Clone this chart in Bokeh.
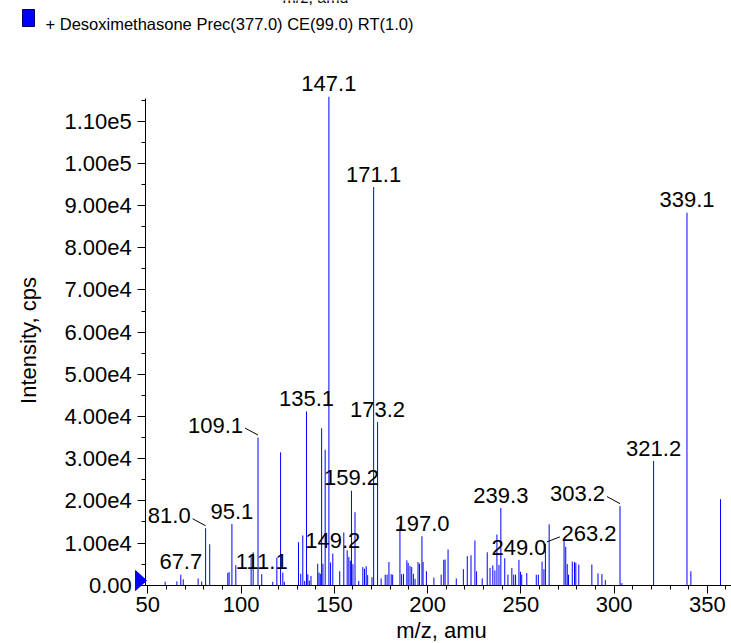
import math
from bokeh.plotting import figure
from bokeh.models import FixedTicker, Label, PolyAnnotation, ColumnDataSource, Range1d
from bokeh.core.properties import value
from bokeh.embed import file_html
from bokeh.resources import INLINE

# ---------------- data ----------------
mz = [59.3, 65.6, 67.7, 69.0, 77.0, 78.9, 81.0, 83.2, 92.9, 93.6, 95.1, 97.2,
      105.4, 106.5, 109.1, 111.1, 117.0, 119.2, 121.2, 122.4, 123.2,
      130.8, 132.0, 133.1, 134.1, 135.1, 135.8, 136.6, 137.5,
      141.1, 141.8, 142.5, 143.2, 143.9, 145.1, 147.1, 148.0, 149.2,
      152.9, 155.1, 156.9, 157.8, 158.6, 159.2, 160.0, 161.1, 163.1,
      165.3, 166.2, 167.1, 167.9, 170.2, 171.1, 173.2, 175.1, 177.3, 178.3,
      179.3, 180.5, 181.3, 185.2, 186.1, 187.1, 188.9, 189.6, 190.6, 191.5,
      192.4, 193.3, 194.9, 195.7, 197.0, 197.6, 199.4, 203.4, 207.3, 208.7,
      209.4, 211.0, 215.4, 219.2, 221.3, 223.3, 225.4, 226.3, 229.3, 232.0,
      233.5, 235.0, 236.1, 237.2, 238.3, 239.3, 241.4, 243.1, 245.2, 246.2,
      247.2, 249.0, 249.8, 250.5, 253.2, 258.3, 259.4, 261.4, 262.4, 263.2,
      265.2, 273.2, 274.1, 274.9, 275.6, 277.6, 278.8, 279.5, 281.1, 288.1,
      291.4, 293.5, 295.3, 303.2, 304.2, 321.2, 339.1, 341.2, 357.1]
intensity = [850, 900, 2500, 1400, 1600, 880, 13500, 9700, 2900, 3100, 14500, 4750,
             7300, 7800, 35000, 2600, 800, 6500, 31500, 3000, 800,
             10200, 2700, 11800, 1000, 41200, 2600, 1100, 2200,
             5100, 3000, 2700, 37200, 5100, 32100, 115800, 5400, 7500,
             3300, 12500, 8250, 6700, 5800, 22400, 5000, 17300, 1000,
             4300, 3900, 4500, 2400, 1900, 94400, 38700, 1600, 2500, 2500,
             5500, 2600, 2500, 14300, 2600, 2700, 5900, 5300, 4600, 4300,
             2700, 1500, 5500, 5100, 11600, 5500, 3300, 1800, 2500, 6000,
             6100, 8450, 1600, 3800, 6900, 7100, 10600, 3300, 1600, 7800,
             4100, 4700, 3500, 12000, 4800, 18300, 6400, 2500, 4100, 2500,
             2500, 6000, 3200, 2500, 2900, 2500, 2500, 5600, 3800, 9800,
             14450, 10600, 9100, 5000, 2500, 5600, 5500, 5300, 4900, 4900,
             2800, 2650, 1200, 18750, 500, 29450, 88300, 3300, 20400]

peak_labels = ["67.7", "81.0", "95.1", "109.1", "111.1", "135.1", "147.1", "149.2",
               "159.2", "171.1", "173.2", "197.0", "239.3", "249.0", "263.2",
               "303.2", "321.2", "339.1"]
left_leader_labels = ["81.0", "109.1", "303.2"]
right_leader_labels = ["263.2"]

x_ticks = [50, 100, 150, 200, 250, 300, 350]
y_ticks = [0, 10000, 20000, 30000, 40000, 50000, 60000, 70000, 80000, 90000, 100000, 110000]
y_tick_labels = ["0.00", "1.00e4", "2.00e4", "3.00e4", "4.00e4", "5.00e4", "6.00e4",
                 "7.00e4", "8.00e4", "9.00e4", "1.00e5", "1.10e5"]
legend_text = "+ Desoximethasone Prec(377.0) CE(99.0) RT(1.0)"
x_title = "m/z, amu"
y_title = "Intensity, cps"

# ---------------- layout (pixels) ----------------
W, H = 731, 643
PX50 = 147.3          # canvas x of m/z 50
PY0 = 584.7           # canvas y of intensity 0
SX = 1.865            # px per m/z unit
SY = 42.18 / 10000.0  # px per cps
AXIS_X_PX = 145.3     # y axis line
AXIS_TOP = 115300     # end of y axis line
BASE_FIX = 0.38       # baseline correction (em) for the svg text placement

X0 = 50 - PX50 / SX
X1 = 50 + (W - PX50) / SX
Y1 = PY0 / SY
Y0 = -(H - PY0) / SY
AXIS_X = 50 - (PX50 - AXIS_X_PX) / SX

FONT = "Liberation Sans"
FS = 22
BLUE = "#0000ff"
FIX = BASE_FIX * FS

p = figure(width=W, height=H, x_range=Range1d(X0, X1), y_range=Range1d(Y0, Y1),
           output_backend="svg", toolbar_location=None, title=None,
           min_border_left=0, min_border_right=0, min_border_top=0, min_border_bottom=0)
p.outline_line_color = None
p.grid.visible = False
p.background_fill_color = "white"
p.border_fill_color = "white"

src = ColumnDataSource(dict(mz=mz, intensity=intensity, base=[0] * len(mz)))
p.segment(x0="mz", y0="base", x1="mz", y1="intensity", source=src,
          line_color=BLUE, line_width=1)

def peak_height(lbl):
    return intensity[mz.index(float(lbl))]

centered = [l for l in peak_labels if l not in left_leader_labels + right_leader_labels]
p.text(x=[float(l) for l in centered], y=[peak_height(l) for l in centered], text=centered,
       text_align="center", text_baseline="alphabetic", y_offset=-4.5 - FIX,
       text_font=value(FONT), text_font_size=f"{FS}px", text_color="black")

p.text(x=[float(l) for l in left_leader_labels], y=[peak_height(l) for l in left_leader_labels],
       text=left_leader_labels, text_align="right", text_baseline="alphabetic",
       x_offset=-15, y_offset=-4 - FIX,
       text_font=value(FONT), text_font_size=f"{FS}px", text_color="black")
p.segment(x0=[float(l) - 13 / SX for l in left_leader_labels],
          y0=[peak_height(l) + 9.5 / SY for l in left_leader_labels],
          x1=[float(l) for l in left_leader_labels],
          y1=[peak_height(l) + 2.5 / SY for l in left_leader_labels],
          line_color="black", line_width=1)

p.text(x=[float(l) for l in right_leader_labels], y=[peak_height(l) for l in right_leader_labels],
       text=right_leader_labels, text_align="left", text_baseline="alphabetic",
       x_offset=16, y_offset=-2 - FIX,
       text_font=value(FONT), text_font_size=f"{FS}px", text_color="black")
p.segment(x0=[float(l) + 14.5 / SX for l in right_leader_labels],
          y0=[peak_height(l) + 7 / SY for l in right_leader_labels],
          x1=[float(l) + 1.5 / SX for l in right_leader_labels],
          y1=[peak_height(l) + 2 / SY for l in right_leader_labels],
          line_color="black", line_width=1)

# ---------------- axes ----------------
p.xaxis.ticker = FixedTicker(ticks=x_ticks, minor_ticks=[v for v in range(60, 370, 10) if v % 50])
p.yaxis.ticker = FixedTicker(ticks=y_ticks, minor_ticks=[t + 5000 for t in y_ticks])
p.yaxis.major_label_overrides = {t: s for t, s in zip(y_ticks, y_tick_labels)}
p.xaxis.fixed_location = 0
p.yaxis.fixed_location = AXIS_X
p.xaxis.bounds = (AXIS_X, X1)
p.yaxis.bounds = (0, AXIS_TOP)
for ax in (p.xaxis, p.yaxis):
    ax.major_tick_out = 8
    ax.major_tick_in = 0
    ax.minor_tick_out = 4
    ax.minor_tick_in = 0
    ax.axis_line_color = "black"
    ax.major_tick_line_color = "black"
    ax.minor_tick_line_color = "black"
    ax.major_label_text_font = FONT
    ax.major_label_text_font_size = f"{FS}px"
    ax.major_label_text_color = "black"
p.xaxis.major_label_standoff = 4
p.yaxis.major_label_standoff = 6

def screen_label(x, y, text, size=FS, font=FONT, align="left", angle=0.0):
    # x, y: canvas pixels from the top-left corner, y = wanted baseline
    fix = BASE_FIX * size
    if angle:
        x -= fix
    else:
        y -= fix
    return Label(x=x, y=H - y, x_units="screen", y_units="screen", text=text,
                 text_align=align, text_baseline="alphabetic", angle=angle,
                 text_font=font, text_font_size=f"{size}px", text_color="black")

p.add_layout(screen_label(441, 638, x_title, align="center"))
p.add_layout(screen_label(36.7, 340, y_title, align="center", angle=math.pi / 2))
# remnant of the previous panel's axis title, cut by the top edge (as in the original)
p.add_layout(screen_label(315, 3.5, x_title, size=16, align="center"))

# marker triangle at the origin
p.add_layout(PolyAnnotation(xs=[135, 146, 135], ys=[H - 570, H - 580, H - 590],
                            xs_units="screen", ys_units="screen",
                            fill_color=BLUE, fill_alpha=1, line_color=BLUE, line_alpha=1))

# legend swatch + text
p.add_layout(PolyAnnotation(xs=[22, 34, 34, 22], ys=[H - 9, H - 9, H - 26, H - 26],
                            xs_units="screen", ys_units="screen",
                            fill_color=BLUE, fill_alpha=1, line_color="#000060", line_alpha=1))
p.add_layout(screen_label(45, 29.3, legend_text, size=16.5))

open("out.html", "w").write(file_html(p, INLINE))
